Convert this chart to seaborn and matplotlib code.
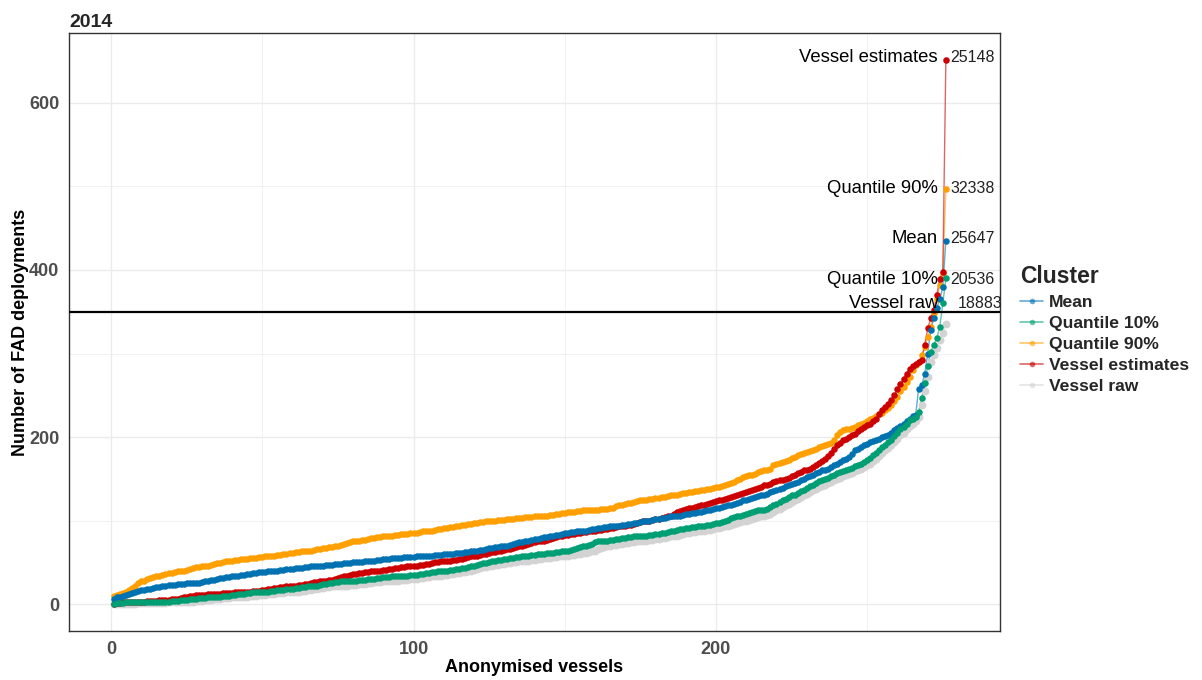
import numpy as np
import pandas as pd
import matplotlib
matplotlib.use("Agg")
import matplotlib.pyplot as plt
from matplotlib.lines import Line2D
import seaborn as sns

# ---------------- data ----------------
q90 = [10, 11, 12, 13, 15, 17, 19, 22, 25, 27,
       28, 30, 31, 32, 33, 34, 35, 36, 37, 37,
       38, 39, 40, 40, 41, 42, 43, 44, 44, 45,
       46, 46, 47, 48, 49, 49, 50, 51, 52, 52,
       53, 53, 54, 54, 54, 55, 55, 55, 56, 56,
       57, 57, 58, 58, 59, 59, 60, 60, 61, 61,
       62, 62, 63, 63, 64, 64, 65, 66, 66, 67,
       67, 68, 68, 69, 70, 71, 72, 73, 74, 75,
       75, 76, 77, 77, 78, 79, 79, 80, 80, 81,
       81, 82, 82, 83, 83, 84, 84, 84, 85, 85,
       85, 86, 87, 87, 88, 88, 89, 90, 90, 91,
       91, 92, 92, 93, 94, 95, 95, 96, 96, 97,
       97, 98, 98, 99, 99, 100, 100, 101, 101, 101,
       102, 102, 102, 103, 103, 103, 104, 104, 104, 105,
       105, 105, 106, 106, 107, 107, 108, 108, 109, 109,
       110, 110, 110, 111, 111, 112, 112, 112, 113, 113,
       113, 114, 114, 114, 115, 115, 117, 118, 119, 120,
       121, 121, 122, 123, 124, 125, 125, 126, 126, 127,
       127, 128, 128, 129, 130, 130, 131, 132, 133, 133,
       134, 134, 135, 135, 136, 137, 138, 138, 139, 140,
       140, 141, 143, 144, 145, 146, 148, 150, 152, 153,
       154, 155, 156, 158, 159, 160, 161, 162, 166, 168,
       169, 170, 171, 173, 175, 176, 178, 180, 181, 182,
       183, 184, 186, 188, 189, 190, 192, 193, 196, 203,
       206, 208, 209, 210, 211, 212, 214, 216, 217, 219,
       221, 223, 225, 227, 229, 232, 235, 238, 243, 248,
       255, 260, 266, 272, 280, 286, 290, 298, 308, 320,
       332, 348, 365, 382, 396, 497]

mean = [6, 8, 9, 10, 11, 12, 13, 14, 16, 17,
        17, 18, 18, 19, 20, 20, 21, 22, 23, 23,
        23, 24, 24, 24, 25, 25, 25, 25, 25, 26,
        27, 28, 29, 29, 30, 31, 31, 32, 32, 33,
        33, 34, 35, 35, 36, 36, 37, 37, 38, 38,
        38, 39, 39, 40, 40, 41, 41, 42, 42, 42,
        43, 43, 43, 44, 44, 45, 45, 46, 46, 46,
        47, 47, 47, 48, 48, 48, 49, 49, 49, 50,
        50, 50, 50, 51, 51, 52, 52, 53, 53, 54,
        54, 54, 55, 55, 55, 55, 56, 56, 56, 56,
        57, 57, 57, 58, 58, 58, 59, 59, 59, 60,
        60, 60, 60, 61, 61, 61, 62, 62, 63, 63,
        64, 65, 65, 66, 67, 67, 68, 68, 69, 70,
        70, 71, 72, 73, 74, 74, 75, 76, 77, 78,
        78, 79, 80, 80, 81, 82, 83, 83, 84, 85,
        85, 86, 86, 87, 87, 88, 88, 89, 90, 90,
        91, 91, 92, 92, 93, 93, 94, 94, 95, 95,
        96, 96, 97, 97, 98, 99, 100, 100, 101, 102,
        102, 103, 103, 104, 105, 105, 106, 106, 107, 108,
        108, 109, 109, 110, 110, 111, 112, 113, 114, 115,
        115, 116, 117, 118, 119, 120, 121, 122, 124, 125,
        126, 127, 128, 129, 130, 131, 132, 134, 135, 137,
        138, 139, 141, 142, 144, 145, 146, 148, 150, 152,
        153, 155, 157, 158, 160, 161, 162, 164, 166, 168,
        170, 172, 174, 176, 180, 184, 186, 188, 190, 192,
        194, 195, 196, 198, 200, 201, 203, 205, 208, 211,
        213, 216, 219, 222, 225, 226, 258, 262, 275, 300,
        328, 342, 355, 365, 380, 435]

vessel_est = [0, 1, 1, 2, 2, 2, 3, 3, 3, 3,
              3, 4, 4, 4, 4, 5, 5, 5, 5, 6,
              6, 6, 7, 8, 9, 10, 10, 11, 11, 11,
              11, 12, 12, 12, 12, 12, 13, 13, 13, 13,
              14, 14, 14, 15, 15, 15, 16, 16, 16, 17,
              17, 18, 18, 19, 19, 20, 20, 21, 21, 22,
              22, 23, 23, 24, 24, 25, 26, 26, 27, 28,
              28, 29, 29, 30, 31, 32, 33, 34, 35, 36,
              36, 37, 37, 38, 38, 39, 39, 40, 40, 41,
              41, 42, 42, 43, 43, 44, 44, 45, 45, 46,
              46, 47, 47, 48, 48, 49, 50, 50, 51, 51,
              52, 52, 53, 53, 54, 54, 55, 56, 57, 58,
              58, 59, 60, 60, 61, 62, 62, 63, 64, 65,
              66, 66, 67, 68, 69, 70, 71, 72, 73, 74,
              75, 76, 76, 77, 78, 79, 80, 81, 82, 83,
              83, 84, 84, 85, 85, 86, 86, 87, 88, 88,
              89, 89, 90, 90, 91, 91, 92, 93, 93, 94,
              95, 95, 96, 97, 98, 99, 99, 100, 101, 102,
              102, 103, 104, 105, 106, 108, 110, 111, 112, 114,
              115, 115, 116, 117, 118, 119, 120, 121, 122, 123,
              124, 125, 126, 127, 128, 129, 130, 132, 133, 134,
              135, 136, 138, 139, 140, 142, 143, 144, 146, 147,
              148, 149, 150, 151, 153, 154, 157, 158, 160, 161,
              162, 164, 167, 169, 171, 174, 177, 181, 186, 190,
              193, 196, 198, 200, 202, 204, 207, 209, 212, 214,
              216, 219, 222, 227, 232, 236, 240, 244, 250, 258,
              264, 270, 276, 282, 285, 288, 290, 292, 310, 330,
              342, 352, 370, 389, 398, 651]

q10 = [0, 1, 1, 1, 2, 2, 2, 2, 2, 3,
       3, 3, 3, 3, 3, 3, 3, 3, 3, 4,
       4, 4, 5, 5, 5, 6, 6, 6, 7, 7,
       7, 8, 8, 8, 9, 9, 10, 10, 10, 11,
       11, 12, 12, 12, 13, 13, 14, 14, 14, 15,
       15, 15, 16, 16, 17, 17, 17, 18, 18, 18,
       19, 19, 20, 20, 21, 21, 22, 22, 23, 24,
       24, 25, 25, 26, 26, 27, 27, 27, 28, 28,
       28, 29, 29, 29, 30, 30, 30, 31, 31, 32,
       32, 32, 33, 33, 33, 34, 34, 34, 35, 35,
       35, 36, 36, 37, 37, 38, 38, 39, 39, 40,
       40, 41, 41, 42, 42, 43, 43, 44, 45, 46,
       47, 48, 49, 49, 50, 51, 52, 53, 53, 54,
       54, 55, 55, 56, 56, 57, 57, 58, 59, 59,
       60, 60, 60, 61, 61, 61, 62, 62, 63, 63,
       64, 65, 66, 67, 68, 69, 70, 71, 72, 74,
       75, 75, 76, 76, 77, 77, 78, 78, 79, 79,
       80, 80, 81, 81, 81, 82, 82, 83, 83, 84,
       84, 85, 85, 86, 87, 88, 89, 90, 90, 91,
       91, 92, 92, 93, 93, 94, 95, 95, 96, 97,
       97, 98, 100, 101, 103, 104, 105, 106, 107, 108,
       109, 110, 111, 112, 112, 113, 114, 116, 118, 120,
       122, 124, 126, 128, 130, 131, 133, 135, 137, 139,
       141, 143, 145, 147, 148, 150, 151, 153, 155, 157,
       158, 159, 160, 162, 163, 165, 166, 168, 170, 172,
       175, 178, 181, 185, 188, 191, 194, 197, 201, 205,
       209, 212, 216, 220, 222, 224, 230, 247, 265, 285,
       302, 310, 318, 332, 360, 390]

vessel_raw = [0, 0, 0, 0, 0, 0, 0, 0, 1, 1,
              1, 1, 1, 1, 1, 1, 1, 1, 2, 2,
              2, 2, 2, 3, 3, 3, 3, 4, 4, 4,
              5, 5, 5, 6, 6, 6, 7, 7, 7, 8,
              8, 8, 9, 9, 9, 10, 10, 10, 11, 11,
              11, 12, 12, 12, 13, 13, 13, 14, 14, 14,
              15, 15, 16, 16, 17, 17, 18, 18, 19, 19,
              20, 20, 21, 21, 21, 22, 22, 22, 23, 23,
              23, 24, 24, 24, 25, 25, 26, 26, 26, 27,
              27, 27, 28, 28, 28, 29, 29, 29, 30, 30,
              30, 31, 31, 32, 32, 33, 33, 34, 34, 35,
              35, 36, 36, 37, 37, 38, 38, 39, 40, 41,
              42, 43, 44, 44, 45, 46, 47, 47, 48, 48,
              49, 49, 50, 50, 51, 51, 52, 52, 53, 53,
              54, 54, 55, 55, 55, 56, 56, 57, 57, 58,
              58, 59, 59, 60, 60, 61, 61, 62, 63, 64,
              66, 67, 68, 69, 70, 71, 71, 72, 72, 73,
              73, 74, 74, 75, 75, 76, 76, 77, 77, 78,
              78, 79, 79, 80, 81, 81, 82, 83, 84, 85,
              85, 86, 86, 87, 87, 88, 89, 89, 90, 91,
              91, 92, 93, 94, 95, 96, 97, 98, 99, 100,
              101, 102, 103, 104, 105, 106, 107, 108, 110, 112,
              114, 116, 118, 120, 122, 124, 126, 128, 130, 132,
              134, 136, 138, 140, 141, 143, 145, 146, 148, 150,
              151, 153, 154, 156, 157, 159, 160, 162, 164, 166,
              168, 171, 174, 177, 181, 184, 187, 190, 194, 198,
              202, 205, 209, 213, 216, 219, 224, 238, 255, 272,
              290, 298, 306, 316, 325, 335]

clusters = ["Mean", "Quantile 10%", "Quantile 90%", "Vessel estimates", "Vessel raw"]
series = [mean, q10, q90, vessel_est, vessel_raw]
totals = ["25647", "20536", "32338", "25148", "18883"]
label_y = [438, 389, 497, 654, 360]   # repelled label positions
threshold = 350
title = "2014"
xlabel = "Anonymised vessels"
ylabel = "Number of FAD deployments"

colors = {"Mean": "#0072B2", "Quantile 10%": "#009E73", "Quantile 90%": "#FF9F00",
          "Vessel estimates": "#CC0000", "Vessel raw": "#D3D3D3"}

rows = []
for name, vals in zip(clusters, series):
    for i, v in enumerate(vals):
        rows.append((i + 1, v, name))
df = pd.DataFrame(rows, columns=["vessel", "fad", "Cluster"])

draw_order = ["Vessel raw", "Quantile 90%", "Vessel estimates", "Mean", "Quantile 10%"]

# ---------------- style ----------------
sns.set_theme(style="white")
plt.rcParams["font.family"] = ["Liberation Sans", "DejaVu Sans"]

fig = plt.figure(figsize=(12.02, 6.80), dpi=100)
ax = fig.add_axes([69 / 1202, 1 - 631 / 680, (1000 - 69) / 1202, (631 - 33) / 680])

# lines then points
sns.lineplot(data=df, x="vessel", y="fad", hue="Cluster", hue_order=draw_order,
             palette=colors, lw=1.0, alpha=0.6, legend=False, ax=ax, zorder=3,
             estimator=None, sort=False)
for c in draw_order:
    sub = df[df["Cluster"] == c]
    sns.scatterplot(data=sub, x="vessel", y="fad", color=colors[c],
                    s=32 if c == "Vessel raw" else 22, linewidth=0,
                    legend=False, ax=ax, zorder=4)

ax.axhline(threshold, color="black", lw=1.6, zorder=5)

# end labels
n = len(mean)
for name, tot, ly in zip(clusters, totals, label_y):
    xoff = 2.6 if name == "Vessel raw" else 0
    ax.text(n - 2.6, ly, name, ha="right", va="center", fontsize=13.3,
            color="black", zorder=6)
    ax.text(n + 1.4 + xoff, ly, tot, ha="left", va="center", fontsize=11.5,
            color="#222222", zorder=6)

# axes
ax.set_xlim(-13.9, 293.9)
ax.set_ylim(-32.3, 683.8)
ax.set_xticks([0, 100, 200])
ax.set_yticks([0, 200, 400, 600])
ax.set_xticks([50, 150, 250], minor=True)
ax.set_yticks([100, 300, 500], minor=True)
ax.grid(True, which="major", color="#EBEBEB", lw=1.0, zorder=0)
ax.grid(True, which="minor", color="#EBEBEB", lw=0.5, zorder=0)
ax.set_axisbelow(True)
for s in ax.spines.values():
    s.set_color("#333333")
    s.set_linewidth(1.0)
ax.tick_params(axis="both", which="major", length=4, width=0.8, color="#333333",
               labelsize=13, labelcolor="#4D4D4D", pad=3)
ax.tick_params(axis="both", which="minor", length=0)
for lab in ax.get_xticklabels() + ax.get_yticklabels():
    lab.set_fontweight("bold")

ax.set_xlabel(xlabel, fontsize=13, fontweight="bold", color="black", labelpad=1)
ax.set_ylabel(ylabel, fontsize=13, fontweight="bold", color="black", labelpad=0)
ax.set_title(title, loc="left", fontsize=14, fontweight="bold", pad=4)

# legend
handles = [Line2D([0], [0], color=colors[c], lw=1.2, alpha=0.6, marker="o",
                  markersize=4, markerfacecolor=colors[c], markeredgewidth=0)
           for c in clusters]
leg = ax.legend(handles, clusters, title="Cluster", loc="upper left",
                bbox_to_anchor=(1.0145, 0.623), frameon=False, handlelength=1.3,
                handletextpad=0.35, labelspacing=0.34, borderaxespad=0,
                prop={"weight": "bold", "size": 12.6},
                title_fontproperties={"weight": "bold", "size": 16.5})
leg._legend_box.align = "left"

fig.savefig("out.png", dpi=100)
